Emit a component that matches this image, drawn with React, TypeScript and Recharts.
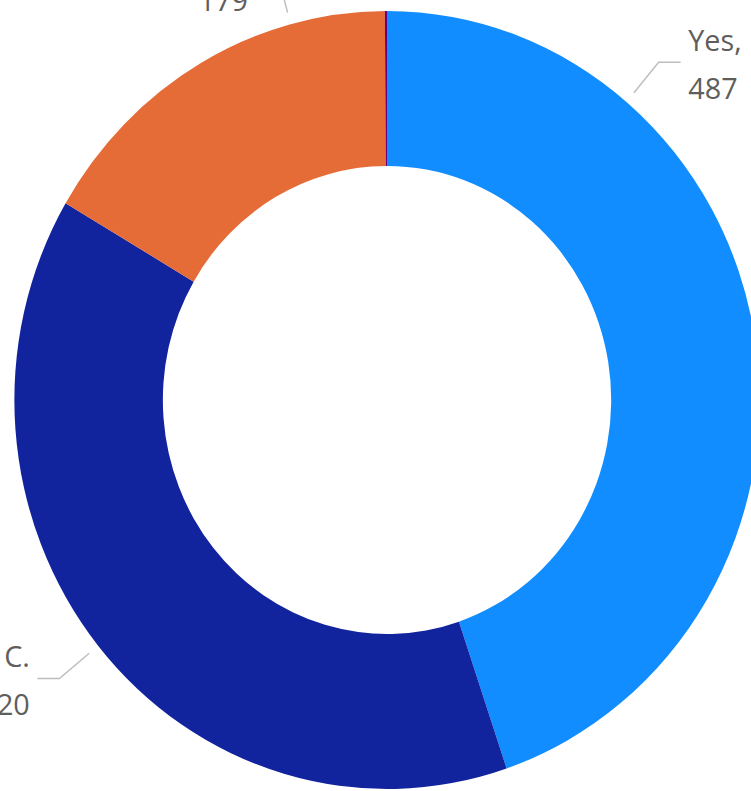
import React from 'react';
import { PieChart, Pie, Cell } from 'recharts';

const categories = ['Yes', 'Outside D. C. area', 'No', '(Blank)'];
const values = [487, 420, 179, 1];
const colors = ['#118DFF', '#12239E', '#E66C37', '#6B007B'];
// leader-line anchor angle (degrees clockwise from 12 o'clock); null = slice middle
const labelAngles: (number | null)[] = [40, null, 345, null];

const data = categories.map((name, i) => ({ name, value: values[i] }));
const total = values.reduce((a, b) => a + b, 0);

const SQUISH = 0.958;
const W = 784;
const H = 791;

function wrapLabel(name: string, value: number): string[] {
  const words = name.split(' ');
  if (words.length > 1) {
    const last = words.pop();
    return [words.join(' '), `${last}, ${value}`];
  }
  return [`${name},`, `${value}`];
}

const renderLabel = (props: any) => {
  const { cx, cy, outerRadius, midAngle, index, value, name } = props;
  if (value / total < 0.01) return null;
  const a = labelAngles[index] ?? 90 - midAngle;
  const rad = (a * Math.PI) / 180;
  const s = Math.sin(rad);
  const c = Math.cos(rad);
  const r1 = outerRadius + 12;
  const r2 = outerRadius + 52;
  const x1 = cx + r1 * s;
  const y1 = cy - r1 * c;
  const x2 = cx + r2 * s;
  const y2 = cy - r2 * c;
  const dir = s >= 0 ? 1 : -1;
  const x3 = x2 + dir * 23;
  const tx = x3 + dir * 8;
  const lines = wrapLabel(name, value);
  return (
    <g key={`lbl-${index}`}>
      <polyline
        points={`${x1},${y1} ${x2},${y2} ${x3},${y2}`}
        fill="none"
        stroke="#BDBDBD"
        strokeWidth={1.5}
      />
      <text
        x={tx}
        y={y2}
        textAnchor={dir > 0 ? 'start' : 'end'}
        fill="#605E5C"
        fontSize={30}
        fontFamily="'Segoe UI', 'Open Sans', sans-serif"
      >
        <tspan x={tx} y={y2 - 11}>{lines[0]}</tspan>
        <tspan x={tx} y={y2 + 37}>{lines[1]}</tspan>
      </text>
    </g>
  );
};

export default function App() {
  return (
    <div
      style={{
        position: 'absolute',
        left: 0,
        top: 0,
        width: 751,
        height: 791,
        overflow: 'hidden',
        background: '#fff',
      }}
    >
      <div style={{ transform: `scaleX(${SQUISH})`, transformOrigin: '0 0', width: W, height: H }}>
        <PieChart
          width={W}
          height={H}
          margin={{ top: 0, right: 0, bottom: 0, left: 0 }}
          style={{ overflow: 'visible' }}
        >
          <Pie
            data={data}
            dataKey="value"
            nameKey="name"
            cx={404}
            cy={400}
            innerRadius={234}
            outerRadius={389}
            startAngle={90}
            endAngle={-270}
            stroke="none"
            label={renderLabel}
            labelLine={false}
            isAnimationActive={false}
          >
            {data.map((d, i) => (
              <Cell key={d.name} fill={colors[i]} />
            ))}
          </Pie>
        </PieChart>
      </div>
    </div>
  );
}
